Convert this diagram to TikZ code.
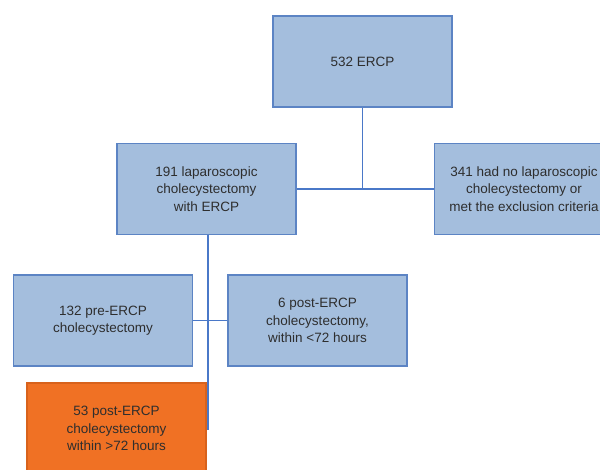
\documentclass[tikz,border=0pt]{standalone}
\usepackage{fontspec}
\setmainfont{Liberation Sans}
\definecolor{boxblue}{HTML}{A4BEDD}
\definecolor{edgeblue}{HTML}{5C84C4}
\definecolor{lineblue}{HTML}{4A78C8}
\definecolor{boxorange}{HTML}{F07124}
\definecolor{edgeorange}{HTML}{D8621C}
\definecolor{txt}{HTML}{2E2E2E}
\tikzset{
  flowbox/.style={draw=edgeblue, fill=boxblue, line width=1.2pt,
    minimum width=179pt, minimum height=91pt, align=center, text=txt,
    font=\fontsize{13.5pt}{17.5pt}\selectfont},
  hotbox/.style={flowbox, draw=edgeorange, fill=boxorange},
  link/.style={draw=lineblue, line width=1.3pt}
}
\begin{document}
\begin{tikzpicture}[x=1pt,y=-1pt]
\useasboundingbox (0,0) rectangle (600,470);
\begin{scope}
\clip (0,0) rectangle (600,470);
% boxes:
\node[flowbox] (ercp) at (362.5,61.5) {532 ERCP};
\node[flowbox] (lap) at (206.5,189) {191 laparoscopic\\cholecystectomy\\with ERCP};
\node[flowbox] (none) at (524,189) {341 had no laparoscopic\\cholecystectomy or\\met the exclusion criteria};
\node[flowbox] (pre) at (103,320.5) {132 pre-ERCP\\cholecystectomy};
\node[flowbox] (early) at (317.5,320.5) {6 post-ERCP\\cholecystectomy,\\within <72 hours};
\node[hotbox] (late) at (116.5,428.5) {53 post-ERCP\\cholecystectomy\\within >72 hours};

% connectors:
\coordinate (tail) at (208,430);
\path[link] (lap.east) -- (none.west);
\path[link] (ercp.south) -- (ercp.south |- lap.east);
\path[link] (lap.south -| tail) -- (tail);
\path[link] (pre.east) -- (early.west);
\end{scope}
\end{tikzpicture}
\end{document}
